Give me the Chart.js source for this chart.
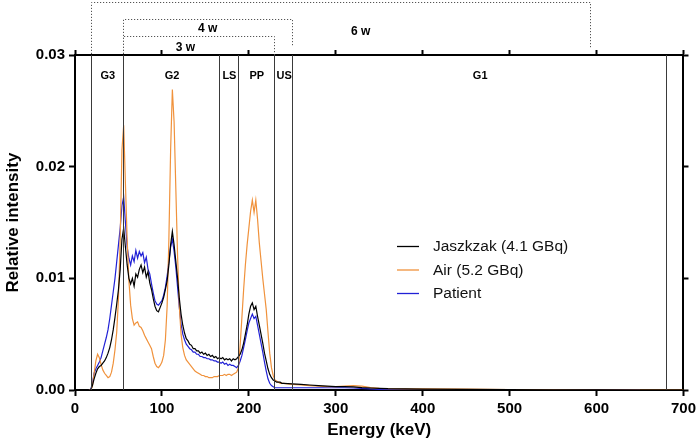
<!DOCTYPE html>
<html>
<head>
<meta charset="utf-8">
<script src="https://cdn.jsdelivr.net/npm/chart.js@4/dist/chart.umd.min.js"></script>
<style>
html,body{margin:0;padding:0;background:#fff;}
#wrap{width:700px;height:442px;position:relative;}
</style>
</head>
<body>
<div id="wrap"><canvas id="c"></canvas></div>
<script>
// ---------- DATA ----------
const energy = [16,18,20,22,24,26,28,30,32,34,36,38,40,42,44,46,48,50,52,54,56,58,60,62,64,66,68,70,72,74,76,78,80,82,84,86,88,90,92,94,96,98,100,102,104,106,108,110,112,114,116,118,120,122,124,126,128,130,132,134,136,138,140,142,144,146,148,150,152,154,156,158,160,162,164,166,168,170,172,174,176,178,180,182,184,186,188,190,192,194,196,198,200,202,204,206,208,210,212,214,216,218,220,222,224,226,228,230,232,234,236,238,240,250,260,270,280,290,300,310,320,330,340,350,360,380,400,450,500,550,600,650,700];

const jaszczak = [0,0,0.0004,0.0010,0.0015,0.0019,0.0021,0.0022,0.0024,0.0026,0.0029,0.0033,0.0038,0.0045,0.0054,0.0065,0.0077,0.0090,0.0108,0.0135,0.0145,0.0128,0.0112,0.0100,0.0095,0.0100,0.0093,0.0104,0.0101,0.0108,0.0112,0.0105,0.0110,0.0101,0.0106,0.0096,0.0090,0.0082,0.0075,0.0071,0.0070,0.0074,0.0078,0.0083,0.0090,0.0098,0.0112,0.0130,0.0142,0.0130,0.0115,0.0100,0.0082,0.0068,0.0058,0.0051,0.0046,0.0044,0.0041,0.0040,0.0037,0.0037,0.0035,0.0035,0.0033,0.0034,0.0032,0.0033,0.0031,0.0032,0.0030,0.0031,0.0029,0.0030,0.0028,0.0029,0.0028,0.0029,0.0027,0.0028,0.0027,0.0028,0.0026,0.0028,0.0027,0.0028,0.0030,0.0032,0.0036,0.0042,0.0050,0.0058,0.0068,0.0075,0.0078,0.0072,0.0075,0.0066,0.0058,0.0050,0.0042,0.0033,0.0026,0.0019,0.0014,0.0011,0.0009,0.0008,0.0007,0.0007,0.0007,0.0006,0.0006,0.00055,0.0005,0.00045,0.0004,0.00035,0.0003,0.0003,0.00028,0.00022,0.00018,0.00015,0.00012,0.0001,0.00008,0.00005,0.00003,0.00002,0.00001,0,0];

const air = [0,0,0.0003,0.0015,0.0026,0.0032,0.0029,0.0023,0.0018,0.0015,0.0013,0.0011,0.0012,0.0016,0.0024,0.0036,0.0052,0.0082,0.0135,0.0215,0.0237,0.0185,0.0135,0.0098,0.0076,0.0064,0.0058,0.0060,0.0061,0.0057,0.0056,0.0053,0.0049,0.0046,0.0043,0.0040,0.0037,0.0030,0.0024,0.0021,0.0020,0.0022,0.0025,0.0031,0.0045,0.0075,0.0135,0.0215,0.0269,0.0240,0.0180,0.0120,0.0075,0.0050,0.0038,0.0031,0.0027,0.0025,0.0023,0.0021,0.0019,0.0017,0.0016,0.0015,0.0014,0.0013,0.0013,0.0012,0.0012,0.0011,0.0011,0.0011,0.0012,0.0012,0.0012,0.0013,0.0013,0.0013,0.0014,0.0013,0.0014,0.0014,0.0013,0.0014,0.0015,0.0016,0.0020,0.0040,0.0065,0.0090,0.0112,0.0130,0.0145,0.0160,0.0170,0.0159,0.0170,0.0153,0.0132,0.0116,0.0100,0.0086,0.0072,0.0052,0.0033,0.0020,0.0013,0.0009,0.0008,0.0007,0.0006,0.0006,0.0006,0.0005,0.00045,0.0004,0.00035,0.0003,0.0003,0.00035,0.0004,0.00035,0.00022,0.00015,0.00012,0.0001,0.0001,0.00008,0.00003,0.00001,0,0,0];

const patient = [0,0,0.0006,0.0015,0.0019,0.0022,0.0025,0.0029,0.0035,0.0041,0.0047,0.0054,0.0064,0.0076,0.0088,0.0100,0.0115,0.0130,0.0145,0.0165,0.0173,0.0150,0.0128,0.0118,0.0112,0.0120,0.0115,0.0125,0.0118,0.0124,0.0120,0.0123,0.0114,0.0119,0.0108,0.0104,0.0095,0.0087,0.0080,0.0077,0.0076,0.0078,0.0080,0.0085,0.0092,0.0102,0.0115,0.0128,0.0135,0.0124,0.0110,0.0092,0.0074,0.0059,0.0050,0.0045,0.0041,0.0039,0.0037,0.0036,0.0034,0.0034,0.0032,0.0032,0.0030,0.0030,0.0029,0.0029,0.0028,0.0028,0.0027,0.0027,0.0026,0.0026,0.0025,0.0025,0.0024,0.0025,0.0023,0.0024,0.0022,0.0023,0.0022,0.0022,0.0021,0.0020,0.0022,0.0026,0.0031,0.0038,0.0045,0.0053,0.0060,0.0064,0.0068,0.0064,0.0066,0.0058,0.0050,0.0042,0.0034,0.0025,0.0017,0.0010,0.0006,0.0004,0.0003,0.0002,0.0002,0.0002,0.0002,0.0002,0.0002,0.0002,0.0002,0.0002,0.0002,0.0002,0.0002,0.0002,0.00018,0.00015,0.0001,0.00005,0.00003,0.00002,0,0,0,0,0,0];

const seriesLabels = ['Jaszkzak (4.1 GBq)','Air (5.2 GBq)','Patient'];
const seriesColors = ['#000000','#f0923c','#2121d6'];

const xTicks = [0,100,200,300,400,500,600,700];
const yTicks = [0,0.01,0.02,0.03];

const windowBounds = [18,55,166,187,229,250,680];
const windowLabels = ['G3','G2','LS','PP','US','G1'];

const bracketLabels = ['6 w','4 w','3 w'];
const bracketFrom = [18,55,55];
const bracketTo = [593,250,229];

// ---------- CHART ----------
const toPts = arr => energy.map((e,i)=>({x:e,y:arr[i]}));
const FONT = '"Liberation Sans", Arial, sans-serif';

const overlay = {
  id:'overlay',
  afterDatasetsDraw(chart){
    const ctx = chart.ctx, xs = chart.scales.x, a = chart.chartArea;
    ctx.save();
    ctx.strokeStyle = '#3a3a3a'; ctx.lineWidth = 1;
    windowBounds.forEach(b=>{
      const px = Math.round(xs.getPixelForValue(b))+0.5;
      ctx.beginPath(); ctx.moveTo(px,a.top); ctx.lineTo(px,a.bottom); ctx.stroke();
    });
    ctx.fillStyle = '#000'; ctx.font = 'bold 11px '+FONT;
    ctx.textAlign='center'; ctx.textBaseline='middle';
    windowLabels.forEach((l,i)=>{
      const c = (xs.getPixelForValue(windowBounds[i])+xs.getPixelForValue(windowBounds[i+1]))/2;
      ctx.fillText(l, c+1, a.top+21);
    });
    ctx.restore();
  },
  afterDraw(chart){
    const ctx = chart.ctx, xs = chart.scales.x, a = chart.chartArea;
    ctx.save();
    const levels = [2,19,36];
    const rightEnd = [a.top-6, a.top-8, a.top];
    const labelDx = [20,0,-13];
    const labelY = [32,29,48];
    ctx.strokeStyle = '#555'; ctx.lineWidth = 1; ctx.setLineDash([1.2,1.8]);
    bracketLabels.forEach((l,i)=>{
      const x1 = Math.round(xs.getPixelForValue(bracketFrom[i]))+0.5;
      const x2 = Math.round(xs.getPixelForValue(bracketTo[i]))+0.5;
      const y = levels[i]+0.5;
      ctx.beginPath();
      ctx.moveTo(x1,a.top-1); ctx.lineTo(x1,y); ctx.lineTo(x2,y); ctx.lineTo(x2,rightEnd[i]);
      ctx.stroke();
    });
    ctx.setLineDash([]);
    ctx.fillStyle='#000'; ctx.font='bold 12px '+FONT; ctx.textAlign='center'; ctx.textBaseline='middle';
    bracketLabels.forEach((l,i)=>{
      const c = (xs.getPixelForValue(bracketFrom[i])+xs.getPixelForValue(bracketTo[i]))/2 + labelDx[i];
      ctx.fillText(l, c, labelY[i]);
    });
    ctx.font = '15.5px '+FONT; ctx.textAlign='left';
    chart.data.datasets.forEach((ds,i)=>{
      const y = 246 + i*23.5;
      ctx.strokeStyle = ds.borderColor; ctx.lineWidth = 1.3;
      ctx.beginPath(); ctx.moveTo(397,y+0.5); ctx.lineTo(419,y+0.5); ctx.stroke();
      ctx.fillStyle = '#111';
      ctx.fillText(ds.label, 433, y+1);
    });
    ctx.restore();
  }
};

const axisCommon = (extra)=>Object.assign({
  border:{display:true,color:'#000',width:2},
  grid:{display:true,drawOnChartArea:false,drawTicks:true,tickLength:6,tickColor:'#000',tickWidth:2}
}, extra);

new Chart(document.getElementById('c'), {
  type:'line',
  data:{
    datasets: [jaszczak, air, patient].map((arr,i)=>({
      label: seriesLabels[i],
      data: toPts(arr),
      borderColor: seriesColors[i],
      borderWidth: 1.2,
      pointRadius: 0,
      tension: 0,
      fill: false
    }))
  },
  options:{
    responsive:true, maintainAspectRatio:false, animation:false,
    layout:{padding:0},
    plugins:{legend:{display:false}, tooltip:{enabled:false}},
    scales:{
      x: axisCommon({
        type:'linear', position:'bottom', min:0, max:700,
        afterBuildTicks: s=>{ s.ticks = xTicks.map(v=>({value:v})); },
        afterFit: s=>{ s.height = 52; },
        ticks:{color:'#000', font:{family:FONT, size:15, weight:'bold'}, padding:4, maxRotation:0, autoSkip:false},
        title:{display:true, text:'Energy (keV)', color:'#000', font:{family:FONT,size:17,weight:'bold'}, padding:{top:0,bottom:1}}
      }),
      x2: axisCommon({
        type:'linear', position:'top', min:0, max:700,
        afterBuildTicks: s=>{ s.ticks = xTicks.map(v=>({value:v})); },
        afterFit: s=>{ s.height = 55; },
        ticks:{display:false},
        grid:{display:true,drawOnChartArea:false,drawTicks:true,tickLength:5,tickColor:'#000',tickWidth:2}
      }),
      y: axisCommon({
        type:'linear', position:'left', min:0, max:0.03,
        afterBuildTicks: s=>{ s.ticks = yTicks.map(v=>({value:v})); },
        afterFit: s=>{ s.width = 75; },
        ticks:{color:'#000', font:{family:FONT, size:15, weight:'bold'}, padding:4, callback:v=>Number(v).toFixed(2)},
        title:{display:true, text:'Relative intensity', color:'#000', font:{family:FONT,size:17,weight:'bold'}, padding:{top:3,bottom:0}}
      }),
      y2: axisCommon({
        type:'linear', position:'right', min:0, max:0.03,
        afterBuildTicks: s=>{ s.ticks = yTicks.map(v=>({value:v})); },
        afterFit: s=>{ s.width = 14; },
        ticks:{display:false},
        grid:{display:true,drawOnChartArea:false,drawTicks:true,tickLength:5,tickColor:'#000',tickWidth:2}
      })
    }
  },
  plugins:[overlay]
});
</script>
</body>
</html>
